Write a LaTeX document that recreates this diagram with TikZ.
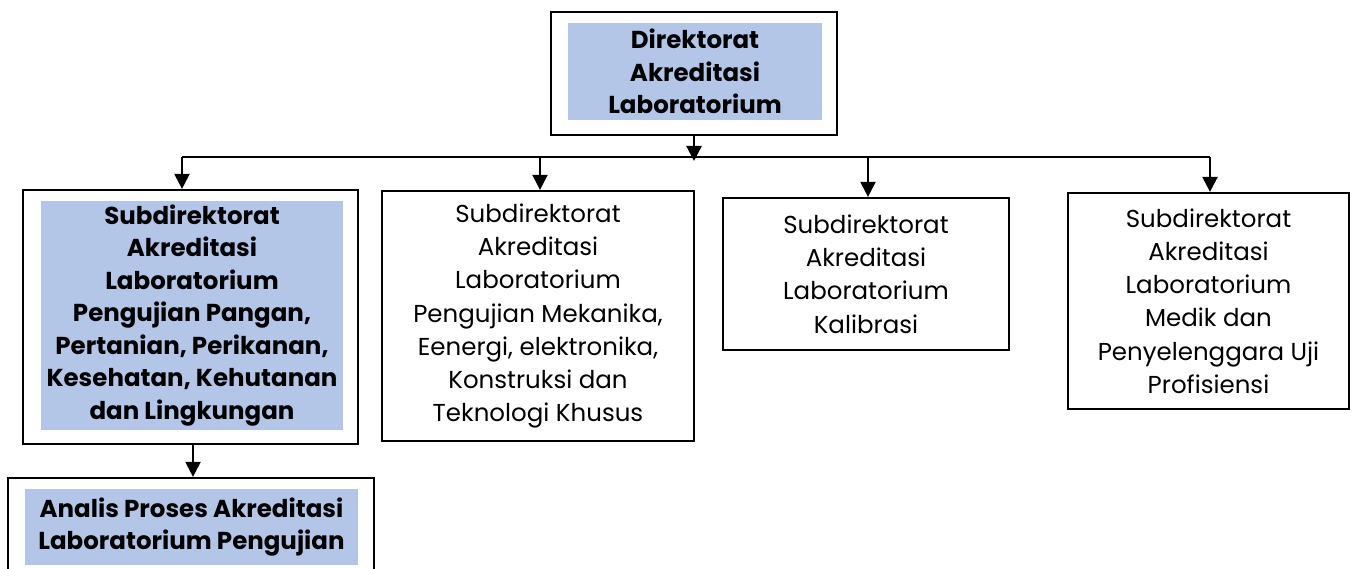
\documentclass[tikz,border=0pt]{standalone}
\usepackage{fontspec}
\setmainfont{Poppins}
\usetikzlibrary{arrows.meta}
\definecolor{fillblue}{HTML}{B4C6E7}
\tikzset{
  outerbox/.style={draw=black, line width=2.2pt, minimum width=#1, inner sep=0pt},
  innerbox/.style={fill=fillblue, inner sep=0pt, align=center, font=\fontsize{24.5}{32.5}\selectfont\bfseries},
  plainbox/.style={draw=black, line width=2.2pt, inner sep=0pt, align=center, font=\fontsize{24.5}{33.2}\selectfont},
  arr/.style={line width=2.2pt, -{Triangle[width=15pt,length=15pt]}},
  bus/.style={line width=2.2pt}
}
\begin{document}
\begin{tikzpicture}[x=1pt,y=-1pt]
\useasboundingbox (0,0) rectangle (1355,569);
% top
\node[outerbox=286pt, minimum height=123pt] (top) at (694,73.5) {};
\node[innerbox, minimum width=254pt, minimum height=97pt] (topin) at (695,71.5) {\raisebox{-2pt}{\parbox{250pt}{\centering Direktorat\\Akreditasi\\Laboratorium}}};
% left
\node[outerbox=335pt, minimum height=254pt] (s1) at (190.5,317) {};
\node[innerbox, minimum width=302pt, minimum height=229pt] (s1in) at (192,315.5) {\raisebox{-3pt}{\parbox{300pt}{\centering Subdirektorat\\Akreditasi\\Laboratorium\\Pengujian Pangan,\\Pertanian, Perikanan,\\Kesehatan, Kehutanan\\dan Lingkungan}}};
% box 2
\node[plainbox, minimum width=312pt, minimum height=250pt] (s2) at (538,316) {\raisebox{-3pt}{\parbox{308pt}{\centering Subdirektorat\\Akreditasi\\Laboratorium\\Pengujian Mekanika,\\Eenergi, elektronika,\\Konstruksi dan\\Teknologi Khusus}}};
% box 3
\node[plainbox, minimum width=286pt, minimum height=152pt] (s3) at (866,274) {\raisebox{-3pt}{\parbox{280pt}{\centering Subdirektorat\\Akreditasi\\Laboratorium\\Kalibrasi}}};
% box 4
\node[plainbox, minimum width=281pt, minimum height=216pt] (s4) at (1208.5,301) {\raisebox{-3pt}{\parbox{278pt}{\centering Subdirektorat\\Akreditasi\\Laboratorium\\Medik dan\\Penyelenggara Uji\\Profisiensi}}};
% bottom
\node[outerbox=366pt, minimum height=102pt] (an) at (191,529) {};
\node[innerbox, minimum width=333pt, minimum height=76pt] (anin) at (191.5,527) {\raisebox{-2pt}{\parbox{330pt}{\centering Analis Proses Akreditasi\\Laboratorium Pengujian}}};
% bus
\coordinate (busL) at (182,157);
\coordinate (busR) at (1210,157);
\coordinate (busC) at (694,161);
\draw[bus] (busL) -- (busR);
\draw[arr] (top.south -| busC) -- (busC);
\draw[arr] (busL) -- (busL |- s1.north);
\draw[arr] (s2.north |- busL) ++(2,0) coordinate (b2) -- (b2 |- s2.north);
\draw[arr] (s3.north |- busL) ++(2,0) coordinate (b3) -- (b3 |- s3.north);
\draw[arr] (busR) -- (busR |- s4.north);
\coordinate (b5) at (193,444);
\draw[arr] (b5) -- (b5 |- an.north);
\end{tikzpicture}
\end{document}
